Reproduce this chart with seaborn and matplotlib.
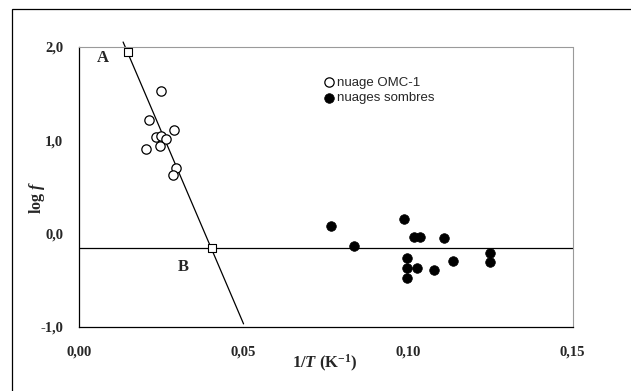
import matplotlib
matplotlib.use('Agg')
import matplotlib.pyplot as plt
import seaborn as sns
import numpy as np
from matplotlib.patches import Rectangle

# nuage OMC-1 (open circles)
omc_x = [0.0249, 0.0214, 0.0290, 0.0234, 0.0249, 0.0264, 0.0246, 0.0204, 0.0295, 0.0285]
omc_y = [1.52, 1.21, 1.11, 1.03, 1.04, 1.01, 0.94, 0.90, 0.70, 0.62]

# nuages sombres (filled circles)
dark_x = [0.0766, 0.0836, 0.0988, 0.1019, 0.1036, 0.1109, 0.0996, 0.0996,
          0.1026, 0.0996, 0.1078, 0.1137, 0.1250, 0.1250]
dark_y = [0.08, -0.135, 0.15, -0.04, -0.04, -0.05, -0.26, -0.375,
          -0.375, -0.476, -0.39, -0.30, -0.215, -0.305]

# points A and B, fitted line and horizontal level
ab_x = [0.0150, 0.0404]
ab_y = [1.94, -0.155]
line_x = [0.0134, 0.0500]
line_y = [2.05, -0.97]
level_y = -0.155

x_ticks = [0.0, 0.05, 0.10, 0.15]
y_ticks = [-1.0, 0.0, 1.0, 2.0]

sns.set_style('white')
plt.rcParams['font.family'] = ['Liberation Serif', 'DejaVu Serif']
plt.rcParams['mathtext.fontset'] = 'custom'
plt.rcParams['mathtext.rm'] = 'Liberation Serif:bold'
plt.rcParams['mathtext.bf'] = 'Liberation Serif:bold'
plt.rcParams['mathtext.it'] = 'Liberation Serif:italic:bold'

fig = plt.figure(figsize=(6.31, 3.91), dpi=100)
ax = fig.add_axes([0.1252, 0.1645, 0.7824, 0.7161])

ax.plot(line_x, line_y, color='black', lw=0.9, clip_on=False, zorder=2)
ax.axhline(level_y, color='black', lw=0.9, zorder=2)

sns.scatterplot(x=omc_x, y=omc_y, ax=ax, marker='o', s=45, facecolor='white',
                edgecolor='black', linewidth=0.9, label='nuage OMC-1', zorder=3)
sns.scatterplot(x=dark_x, y=dark_y, ax=ax, marker='o', s=48, color='black',
                edgecolor='black', linewidth=0.5, label='nuages sombres', zorder=3)
ax.scatter(ab_x, ab_y, marker='s', s=28, facecolor='white', edgecolor='black',
           linewidth=0.8, zorder=4, clip_on=False)

ax.text(0.0071, 1.876, 'A', fontsize=12, fontweight='bold', ha='center', va='center')
ax.text(0.0316, -0.361, 'B', fontsize=12, fontweight='bold', ha='center', va='center')

ax.set_xlim(0, 0.15)
ax.set_ylim(-1.0, 2.0)
ax.set_xticks(x_ticks)
ax.set_yticks(y_ticks)
ax.set_xticklabels([f"{v:.2f}".replace('.', ',') for v in x_ticks])
ax.set_yticklabels([f"{v:.1f}".replace('.', ',') for v in y_ticks])
ax.tick_params(axis='x', direction='out', length=4, width=0.8, pad=9.5,
               labelsize=10.5)
ax.tick_params(axis='y', direction='out', length=3.5, width=0.8, pad=8,
               labelsize=10.5)
for lbl in ax.get_xticklabels() + ax.get_yticklabels():
    lbl.set_fontweight('bold')

ax.set_xlabel(r'1/$T$ (K$^{\mathrm{-1}}$)', fontsize=12, fontweight='bold')
ax.xaxis.set_label_coords(0.498, -0.092)
ax.set_ylabel(r'log $f$', fontsize=11.5, fontweight='bold')
ax.yaxis.set_label_coords(-0.064, 0.46)

for side in ['left', 'bottom']:
    ax.spines[side].set_color('black')
    ax.spines[side].set_linewidth(0.9)
for side in ['top', 'right']:
    ax.spines[side].set_color('#9a9a9a')
    ax.spines[side].set_linewidth(0.8)
    ax.spines[side].set_linestyle((0, (2, 1)))

leg = ax.legend(loc='upper left', bbox_to_anchor=(0.494, 0.893), frameon=False,
                handletextpad=0.1, handlelength=1.0, borderpad=0, borderaxespad=0,
                labelspacing=0.25, prop={'family': 'Liberation Sans', 'size': 9.5})

# outer frame around the figure
fig.patches.append(Rectangle((12.3 / 631, -0.2), 1.2, 0.976 + 0.2,
                             transform=fig.transFigure, fill=False,
                             edgecolor='black', lw=0.9))

plt.savefig('out.png', dpi=100)
plt.close()
